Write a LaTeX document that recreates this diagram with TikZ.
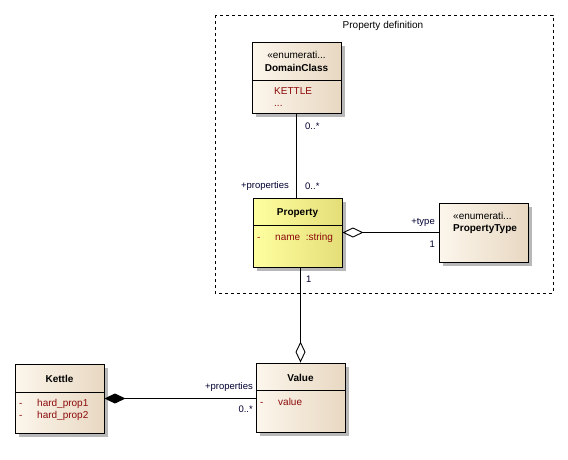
\documentclass[tikz,border=0pt]{standalone}
\usepackage{fontspec}
\setmainfont{Liberation Sans}
\usetikzlibrary{arrows.meta, positioning, shadows, calc}
\definecolor{boxL}{RGB}{252, 246, 236}
\definecolor{boxR}{RGB}{232, 216, 194}
\definecolor{propL}{RGB}{255, 255, 160}
\definecolor{propR}{RGB}{228, 222, 120}
\definecolor{attr1}{RGB}{140, 10, 10}
\definecolor{navy1}{RGB}{0, 0, 50}

\tikzset{
  classbox/.style={draw, line width=0.9pt, left color=boxL, right color=boxR,
    drop shadow={shadow xshift=4pt, shadow yshift=-4pt, fill=black!28, opacity=1},
    inner sep=0pt},
  propbox/.style={classbox, left color=propL, right color=propR},
  ctitle/.style={font=\bfseries, inner sep=0pt},
  cstereo/.style={inner sep=0pt},
  cattr/.style={text=attr1, inner sep=0pt, anchor=base west},
  rolelabel/.style={text=navy1, inner sep=0pt, font=\fontsize{9.5}{11}\selectfont},
  assoc/.style={line width=0.9pt}
}

\begin{document}
\begin{tikzpicture}[x=1pt, y=-1pt, font=\fontsize{10}{12}\selectfont]
  \useasboundingbox[fill=white] (0,0) rectangle (568,459);

  % package frame
  \draw[dashed, line width=0.8pt] (215,15) rectangle (553,293);
  \node[inner sep=0pt] (pkgtitle) at (383,26) {Property definition};

  % DomainClass
  \node[classbox, minimum width=89pt, minimum height=71pt] (domain) at (296.5,77.5) {};
  \draw[line width=0.9pt] (domain.west |- 0,80) -- (domain.east |- 0,80);
  \node[cstereo] (domainst) at (296.5,55) {«enumerati...};
  \node[ctitle] (domaintt) at (296.5,68) {DomainClass};
  \node[cattr] (kettlelit) at (274,94) {KETTLE};
  \node[cattr] (morelit) at (274,106) {...};

  % Property
  \node[propbox, minimum width=89pt, minimum height=69pt] (property) at (297.5,232.5) {};
  \draw[line width=0.9pt] (property.west |- 0,225) -- (property.east |- 0,225);
  \node[ctitle] (propertytt) at (297.5,213) {Property};
  \node[cattr] (propdash) at (257,240) {-};
  \node[cattr] (propname) at (275,240) {name\ \ :string};

  % PropertyType
  \node[classbox, minimum width=89pt, minimum height=59pt] (ptype) at (483.5,232.5) {};
  \node[cstereo, anchor=west] (ptypest) at (453,216) {«enumerati...};
  \node[ctitle, anchor=west] (ptypett) at (453,229) {PropertyType};

  % Kettle
  \node[classbox, minimum width=89pt, minimum height=69pt] (kettle) at (59.5,398.5) {};
  \draw[line width=0.9pt] (kettle.west |- 0,392) -- (kettle.east |- 0,392);
  \node[ctitle] (kettlett) at (59.5,379) {Kettle};
  \node[cattr] (kdash1) at (19,406) {-};
  \node[cattr] (kprop1) at (37,406) {hard\_prop1};
  \node[cattr] (kdash2) at (19,418) {-};
  \node[cattr] (kprop2) at (37,418) {hard\_prop2};

  % Value
  \node[classbox, minimum width=89pt, minimum height=69pt] (value) at (300.5,397.5) {};
  \draw[line width=0.9pt] (value.west |- 0,390) -- (value.east |- 0,390);
  \node[ctitle] (valuett) at (300.5,378) {Value};
  \node[cattr] (vdash) at (260,405) {-};
  \node[cattr] (vname) at (278,405) {value};

  % connectors
  \draw[assoc] (domain.south) -- (domain.south |- property.north);
  \draw[assoc, {Diamond[open, length=21pt, width=10pt]}-] (property.east) -- (ptype.west);
  \draw[assoc, -{Diamond[open, length=21pt, width=10pt]}] (property.south -| value.north) -- (value.north);
  \draw[assoc, {Diamond[length=21pt, width=10pt]}-] (kettle.east) -- (kettle.east -| value.west);

  % role labels
  \node[rolelabel, anchor=west] (dommult) at (305,126) {0..*};
  \node[rolelabel, anchor=west] (propmult) at (305,186) {0..*};
  \node[rolelabel, anchor=east] (proprole) at (289,186) {+properties};
  \node[rolelabel, anchor=east] (typerole) at (435,222) {+type};
  \node[rolelabel, anchor=east] (typemult) at (435,244) {1};
  \node[rolelabel, anchor=west] (valmult1) at (306,279) {1};
  \node[rolelabel, anchor=east] (valrole) at (253,387) {+properties};
  \node[rolelabel, anchor=east] (valmult) at (253,409) {0..*};
\end{tikzpicture}
\end{document}
